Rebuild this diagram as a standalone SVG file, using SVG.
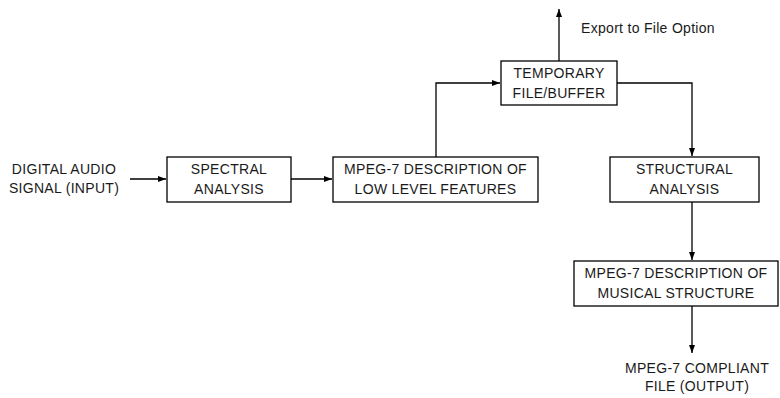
<svg xmlns="http://www.w3.org/2000/svg" width="780" height="398" viewBox="0 0 780 398">
<style>
.box{fill:#fff;stroke:#000;stroke-width:1.3}
.ln{fill:none;stroke:#000;stroke-width:1.3;marker-end:url(#ah)}
text{font-family:"Liberation Sans",Arial,sans-serif;font-size:14px;fill:#1a1a1a;text-anchor:middle;letter-spacing:0.3px}
</style>
<defs>
<marker id="ah" viewBox="0 0 8 6" refX="8" refY="3" markerWidth="8" markerHeight="6" markerUnits="userSpaceOnUse" orient="auto">
<path d="M0,0 L8,3 L0,6 Z" fill="#000"/>
</marker>
</defs>
<rect width="780" height="398" fill="#fff"/>
<g id="connectors">
<path class="ln" d="M130,179 H166"/>
<path class="ln" d="M291,179 H332"/>
<path class="ln" d="M436,157 V83 H500"/>
<path class="ln" d="M559,61 V9"/>
<path class="ln" d="M617,83 H692 V156"/>
<path class="ln" d="M692,202 V260"/>
<path class="ln" d="M692,306 V353"/>
</g>
<g id="input"><text x="64" y="174">DIGITAL AUDIO</text><text x="64" y="193">SIGNAL (INPUT)</text></g>
<g id="spectral"><rect class="box" x="167" y="157" width="124" height="45"/><text x="229" y="174">SPECTRAL</text><text x="229" y="194">ANALYSIS</text></g>
<g id="lowlevel"><rect class="box" x="333" y="157" width="205" height="45"/><text x="435.5" y="174">MPEG-7 DESCRIPTION OF</text><text x="435.5" y="194">LOW LEVEL FEATURES</text></g>
<g id="temporary"><rect class="box" x="501" y="61" width="116" height="44"/><text x="559" y="78">TEMPORARY</text><text x="559" y="98">FILE/BUFFER</text></g>
<g id="export"><text x="648" y="33">Export to File Option</text></g>
<g id="structural"><rect class="box" x="610" y="157" width="149" height="45"/><text x="684.5" y="174">STRUCTURAL</text><text x="684.5" y="194">ANALYSIS</text></g>
<g id="musical"><rect class="box" x="574" y="261" width="204" height="45"/><text x="676" y="278">MPEG-7 DESCRIPTION OF</text><text x="676" y="298">MUSICAL STRUCTURE</text></g>
<g id="output"><text x="697" y="373">MPEG-7 COMPLIANT</text><text x="697" y="391">FILE (OUTPUT)</text></g>
</svg>
